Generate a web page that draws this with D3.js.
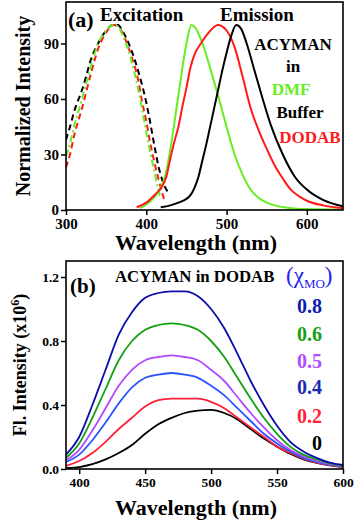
<!DOCTYPE html>
<html>
<head>
<meta charset="utf-8">
<script src="https://cdn.jsdelivr.net/npm/d3@7"></script>
<style>
    body { margin: 0; background: white; }
</style>
</head>
<body>
<svg id="chart" width="357" height="522"></svg>
<script>
// ---- panel (a): normalized excitation / emission spectra ----
const excBufferNm = [300, 305, 310, 320, 325, 330, 340, 350, 358, 365, 370, 380, 390, 400, 405, 410, 415, 420, 428];
const excBufferVal = [38, 45, 53, 65, 72, 80, 90, 97, 100, 100, 97, 88, 75, 58, 47, 35, 24, 16, 9];
const excDodabNm = [300, 305, 310, 320, 330, 340, 350, 360, 365, 370, 380, 390, 395, 400, 405, 410, 415, 420, 422];
const excDodabVal = [23, 30, 40, 55, 72, 87, 96, 100, 99, 96, 85, 70, 58, 48, 36, 26, 17, 9, 6];
const excDmfNm = [300, 305, 310, 320, 330, 340, 350, 358, 365, 370, 380, 390, 395, 400, 405, 410, 415, 418];
const excDmfVal = [29, 36, 45, 60, 76, 90, 97, 100, 99, 95, 83, 65, 54, 42, 31, 21, 11, 6];

const emDmfNm = [392, 400, 410, 420, 425, 430, 440, 450, 456, 460, 470, 480, 490, 500, 510, 520, 530, 540, 550, 560, 580, 600, 645];
const emDmfVal = [1, 3, 7, 14, 21, 33, 62, 90, 100, 99, 90, 76, 61, 45, 30, 19, 11, 6.5, 4, 2.5, 1, 0.5, 0.2];
const emDodabNm = [388, 400, 410, 420, 425, 430, 435, 440, 445, 450, 455, 460, 468, 478, 489, 500, 510, 520, 530, 540, 550, 560, 570, 580, 590, 600, 620, 645];
const emDodabVal = [1.5, 4, 8, 13, 18, 28, 37, 45, 56, 66, 77, 84, 90, 96, 100, 97, 88, 72, 55, 43, 33, 24, 17, 11, 7.5, 5, 2.5, 1];
const emBufferNm = [418, 430, 440, 450, 455, 460, 465, 470, 475, 480, 485, 490, 495, 500, 505, 512, 518, 525, 535, 545, 555, 570, 585, 603, 620, 645];
const emBufferVal = [1.5, 2.5, 4, 6, 8, 12, 18, 27, 36, 46, 56, 66, 76, 85, 93, 100, 98, 90, 75, 60, 46, 30, 18, 10, 5.5, 2];

const aXTicks = [300, 400, 500, 600];
const aYTicks = [0, 30, 60, 90];

// ---- panel (b): ACYMAN in DODAB, emission vs mole fraction ----
const bNm = [390, 400, 410, 420, 430, 440, 450, 460, 470, 480, 490, 500, 510, 520, 530, 540, 550, 560, 570, 580, 590, 600];
const bSeriesLabels = ["0.8", "0.6", "0.5", "0.4", "0.2", "0"];
const b08 = [0.09, 0.20, 0.40, 0.62, 0.84, 0.98, 1.07, 1.10, 1.11, 1.11, 1.08, 1.00, 0.88, 0.72, 0.55, 0.40, 0.27, 0.17, 0.11, 0.07, 0.04, 0.025];
const b06 = [0.07, 0.16, 0.32, 0.50, 0.68, 0.80, 0.87, 0.90, 0.91, 0.90, 0.87, 0.80, 0.70, 0.57, 0.44, 0.32, 0.22, 0.14, 0.09, 0.06, 0.035, 0.02];
const b05 = [0.055, 0.12, 0.24, 0.38, 0.52, 0.62, 0.68, 0.70, 0.71, 0.70, 0.68, 0.62, 0.55, 0.45, 0.35, 0.26, 0.18, 0.12, 0.08, 0.05, 0.03, 0.018];
const b04 = [0.045, 0.09, 0.18, 0.29, 0.41, 0.51, 0.57, 0.59, 0.60, 0.59, 0.57, 0.52, 0.46, 0.38, 0.30, 0.22, 0.16, 0.11, 0.07, 0.045, 0.028, 0.017];
const b02 = [0.02, 0.05, 0.10, 0.17, 0.25, 0.32, 0.39, 0.43, 0.44, 0.44, 0.44, 0.42, 0.38, 0.32, 0.26, 0.20, 0.14, 0.10, 0.065, 0.04, 0.025, 0.015];
const b00 = [0.005, 0.012, 0.03, 0.06, 0.10, 0.15, 0.22, 0.28, 0.32, 0.35, 0.365, 0.37, 0.35, 0.31, 0.25, 0.19, 0.14, 0.095, 0.06, 0.038, 0.023, 0.013];
const bXTicks = [400, 450, 500, 550, 600];
const bYTicks = [0.0, 0.4, 0.8, 1.2];

const SERIF = '"Liberation Serif", "Times New Roman", "DejaVu Serif", serif';

const svg = d3.select("#chart")
    .attr('font-family', SERIF)
    .attr('font-weight', 'bold');

const FRAME_LEFT = 66;
const FRAME_RIGHT = 343;

function zip(xs, ys) {
    return xs.map((x, i) => ({ x: x, y: ys[i] }));
}

function styleAxis(a, tickSize) {
    a.attr('font-family', SERIF).attr('font-weight', 'bold');
    a.select('.domain').remove();
    a.selectAll('line').attr('stroke-width', 1.5);
    a.selectAll('text')
        .attr('fill', 'black')
        .attr('font-family', SERIF)
        .attr('font-weight', 'bold')
        .attr('font-size', tickSize);
}

function drawFrame(g, x, y, xTicks, yTicks, yFormat, tickSize) {
    let [x0, x1] = x.range();
    let [y0, y1] = y.range();

    g.append('g')
        .attr('transform', `translate(0,${y0})`)
        .call(d3.axisBottom(x).tickValues(xTicks).tickSize(5).tickSizeOuter(0).tickPadding(3))
        .call(a => styleAxis(a, tickSize));

    g.append('g')
        .attr('transform', `translate(${x0},0)`)
        .call(d3.axisLeft(y).tickValues(yTicks).tickFormat(yFormat).tickSize(5).tickSizeOuter(0).tickPadding(2))
        .call(a => styleAxis(a, tickSize));

    g.append('rect')
        .attr('x', x0)
        .attr('y', y1)
        .attr('width', x1 - x0)
        .attr('height', y0 - y1)
        .attr('fill', 'none')
        .attr('stroke', 'black')
        .attr('stroke-width', 1.6);
}

function clipFor(id, x, y) {
    svg.append('clipPath')
        .attr('id', id)
        .append('rect')
        .attr('x', x.range()[0])
        .attr('y', y.range()[1])
        .attr('width', x.range()[1] - x.range()[0])
        .attr('height', y.range()[0] - y.range()[1]);
}

function label(g, t, x, y, size, color, anchor) {
    return g.append('text')
        .attr('x', x)
        .attr('y', y)
        .attr('text-anchor', anchor || 'start')
        .attr('fill', color || 'black')
        .attr('font-family', SERIF)
        .attr('font-weight', 'bold')
        .attr('font-size', size)
        .text(t);
}

// ===== panel (a) =====
let ax = d3.scaleLinear().domain([300, 645]).range([FRAME_LEFT, FRAME_RIGHT]);
let ay = d3.scaleLinear().domain([0, 112.4]).range([210, 2]);
let aLine = d3.line()
    .x(d => ax(d.x))
    .y(d => ay(d.y))
    .curve(d3.curveMonotoneX);

clipFor('clip-a', ax, ay);
let gA = svg.append('g');
let curvesA = gA.append('g').attr('clip-path', 'url(#clip-a)');

const aGreen = '#66ee22';
const aRed = '#ff1a1a';

let seriesA = [
    { pts: zip(excBufferNm, excBufferVal), color: 'black', dash: '6,4' },
    { pts: zip(excDodabNm, excDodabVal), color: aRed, dash: '6,4' },
    { pts: zip(excDmfNm, excDmfVal), color: aGreen, dash: '7,3,2,3' },
    { pts: zip(emDmfNm, emDmfVal), color: aGreen, dash: null },
    { pts: zip(emDodabNm, emDodabVal), color: aRed, dash: null },
    { pts: zip(emBufferNm, emBufferVal), color: 'black', dash: null }
];

seriesA.forEach(s => {
    curvesA.append('path')
        .attr('d', aLine(s.pts))
        .attr('fill', 'none')
        .attr('stroke', s.color)
        .attr('stroke-width', 2)
        .attr('stroke-dasharray', s.dash);
});

drawFrame(gA, ax, ay, aXTicks, aYTicks, d3.format('d'), 15);

label(gA, 'Wavelength (nm)', 196, 250, 22, 'black', 'middle');
label(gA, 'Normalized Intensity', 0, 0, 20, 'black', 'middle')
    .attr('transform', `translate(30,106) rotate(-90)`);

label(gA, '(a)', 68, 27, 22);
label(gA, 'Excitation', 100, 21, 19);
label(gA, 'Emission', 220, 21, 19);

let aLegend = [
    { t: 'ACYMAN', x: 293, y: 50, c: 'black' },
    { t: 'in', x: 293, y: 72, c: 'black' },
    { t: 'DMF', x: 291, y: 95, c: aGreen },
    { t: 'Buffer', x: 300, y: 118, c: 'black' },
    { t: 'DODAB', x: 310, y: 143, c: aRed }
];
aLegend.forEach(l => label(gA, l.t, l.x, l.y, 17, l.c, 'middle'));

// ===== panel (b) =====
let bx = d3.scaleLinear().domain([390, 600]).range([FRAME_LEFT, FRAME_RIGHT]);
let by = d3.scaleLinear().domain([0, 1.3]).range([469, 261]);
let bLine = d3.line()
    .x(d => bx(d.x))
    .y(d => by(d.y))
    .curve(d3.curveMonotoneX);

clipFor('clip-b', bx, by);
let gB = svg.append('g');
let curvesB = gB.append('g').attr('clip-path', 'url(#clip-b)');

let seriesB = [
    { vals: b00, color: '#000000', text: '#000000' },
    { vals: b02, color: '#ff1f3a', text: '#ff1f3a' },
    { vals: b04, color: '#2a55ff', text: '#1a2ab4' },
    { vals: b05, color: '#b04cff', text: '#b04cff' },
    { vals: b06, color: '#14a014', text: '#14a014' },
    { vals: b08, color: '#0c0cae', text: '#0c1cb0' }
];

seriesB.forEach(s => {
    curvesB.append('path')
        .attr('d', bLine(zip(bNm, s.vals)))
        .attr('fill', 'none')
        .attr('stroke', s.color)
        .attr('stroke-width', 1.8);
});

drawFrame(gB, bx, by, bXTicks, bYTicks, d3.format('.1f'), 13.5);

label(gB, 'Wavelength (nm)', 196, 515, 22, 'black', 'middle');

let bYLabel = label(gB, '', 0, 0, 18, 'black', 'middle')
    .attr('transform', `translate(26,365) rotate(-90)`);
bYLabel.append('tspan').text('Fl. Intensity (x10');
bYLabel.append('tspan').attr('dy', -7).attr('font-size', 12).text('6');
bYLabel.append('tspan').attr('dy', 7).text(')');

label(gB, '(b)', 70, 293, 21);
label(gB, 'ACYMAN in DODAB', 115, 282, 16.8);

let chi = label(gB, '', 286, 283, 23, '#2222ee')
    .attr('font-weight', 'normal');
chi.append('tspan').text('(\u03C7');
chi.append('tspan').attr('dy', 5).attr('font-size', 13).text('MO');
chi.append('tspan').attr('dy', -5).text(')');

let bLegendY = [313, 341, 368, 394, 423, 450];
bSeriesLabels.forEach((lab, i) => {
    let s = seriesB[seriesB.length - 1 - i];
    label(gB, lab, 322, bLegendY[i], 20, s.text, 'end');
});
</script>
</body>
</html>
